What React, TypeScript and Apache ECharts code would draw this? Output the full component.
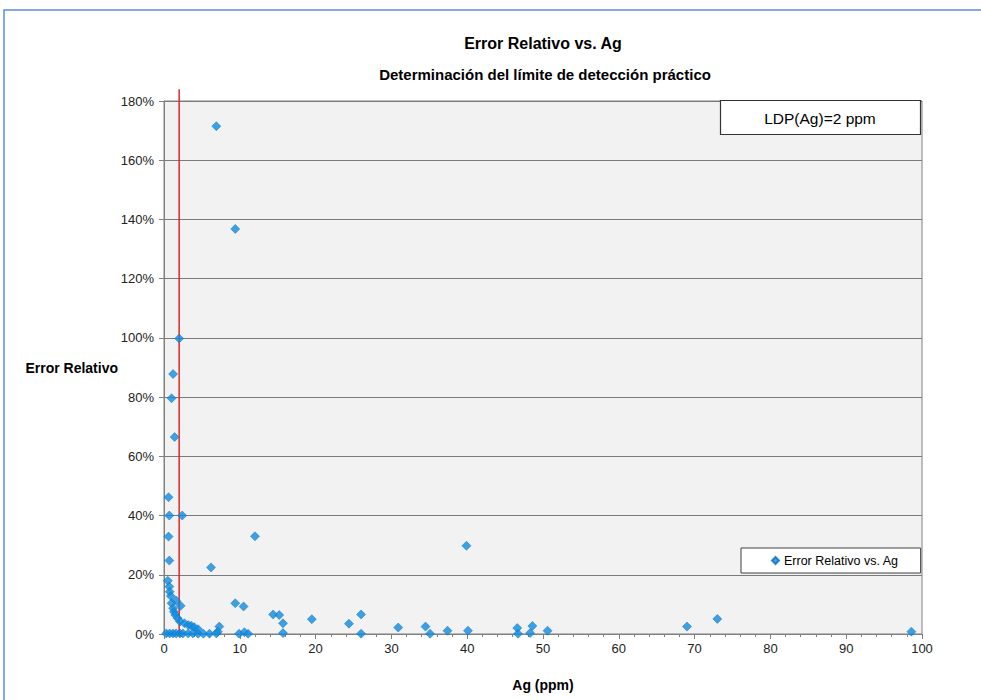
import React, { useEffect, useRef } from "react";
import * as echarts from "echarts";

const TITLE = "Error Relativo vs. Ag";
const SUBTITLE = "Determinación del límite de detección práctico";
const SERIES_NAME = "Error Relativo vs. Ag";
const X_NAME = "Ag (ppm)";
const Y_NAME = "Error Relativo";
const LDP_LABEL = "LDP(Ag)=2 ppm";
const LDP_VALUE = 2;
const LDP_LINE_TOP = 184;

// Ag concentration (ppm)
const agPpm = [
  6.9, 9.4, 2.0, 1.2, 1.0, 1.4, 0.6, 0.7, 2.4, 0.6, 0.7, 6.2, 12.0, 39.9,
  0.5, 0.7, 0.75, 0.9, 1.0, 1.6, 1.2, 1.3, 1.5, 1.8, 2.2, 2.1, 2.7, 3.2, 3.6, 4.0, 4.5, 7.3, 7.1,
  0.3, 0.75, 1.2, 1.6, 2.1, 2.5, 3.2, 3.8, 4.5, 5.2, 6.0, 6.9,
  9.4, 10.5, 9.9, 10.6, 11.1,
  14.4, 15.2, 15.7, 15.7, 19.5, 24.4, 26.0, 26.0, 30.9, 34.5, 35.1, 37.4, 40.1,
  46.6, 46.7, 48.3, 48.6, 50.6, 69.0, 73.0, 98.6,
];
// Relative error (%)
const relErrorPct = [
  171.5, 136.8, 99.8, 87.8, 79.6, 66.5, 46.2, 40.0, 40.0, 32.9, 24.8, 22.5, 33.0, 29.8,
  18.0, 16.0, 14.3, 12.8, 10.4, 11.3, 8.7, 7.5, 6.4, 5.3, 9.5, 4.2, 3.6, 3.0, 2.8, 2.3, 1.6, 2.5, 0.8,
  0.2, 0.2, 0.2, 0.2, 0.2, 0.2, 0.2, 0.2, 0.1, 0.1, 0.1, 0.2,
  10.4, 9.3, 0.1, 0.6, 0.1,
  6.6, 6.4, 3.6, 0.3, 5.0, 3.5, 6.6, 0.1, 2.2, 2.5, 0.1, 1.1, 1.1,
  2.0, 0.1, 0.3, 2.7, 1.1, 2.5, 5.1, 0.8,
];

const FONT = "Liberation Sans, Arial, sans-serif";

export default function App() {
  const ref = useRef<HTMLDivElement>(null);

  useEffect(() => {
    document.body.style.margin = "0";
    if (!ref.current) return;
    const chart = echarts.init(ref.current, null, { renderer: "svg" });
    const points = agPpm.map((x, i) => [x, relErrorPct[i]]);
    chart.setOption({
      animation: false,
      backgroundColor: "#ffffff",
      textStyle: { fontFamily: FONT },
      grid: {
        left: 164,
        right: 59,
        top: 101,
        bottom: 66,
        show: true,
        backgroundColor: "#f2f2f2",
        borderColor: "#808080",
        borderWidth: 1,
      },
      legend: {
        data: [SERIES_NAME],
        left: 741,
        top: 548,
        padding: [6, 22, 6, 30],
        backgroundColor: "#ffffff",
        borderColor: "#404040",
        borderWidth: 1,
        borderRadius: 0,
        itemWidth: 7,
        itemHeight: 7,
        itemGap: 5,
        icon: "diamond",
        textStyle: { fontFamily: FONT, fontSize: 12.5, color: "#000" },
      },
      xAxis: {
        type: "value",
        min: 0,
        max: 100,
        interval: 10,
        name: X_NAME,
        nameLocation: "middle",
        nameGap: 44,
        nameMoveOverlap: false,
        nameTextStyle: { fontFamily: FONT, fontSize: 14, fontWeight: "bold", color: "#000" },
        axisLine: { onZero: false, lineStyle: { color: "#808080", width: 1 } },
        axisTick: { show: true, inside: false, length: 5, lineStyle: { color: "#808080" } },
        minorTick: { show: true, splitNumber: 5, length: 3, lineStyle: { color: "#808080" } },
        splitLine: { show: false },
        axisLabel: { fontFamily: FONT, fontSize: 13, color: "#222", margin: 8 },
      },
      yAxis: {
        type: "value",
        min: 0,
        max: 180,
        interval: 20,
        name: Y_NAME,
        nameLocation: "middle",
        nameRotate: 0,
        nameGap: 46,
        nameMoveOverlap: false,
        nameTextStyle: { fontFamily: FONT, fontSize: 14, fontWeight: "bold", color: "#000" },
        axisLine: { show: true, lineStyle: { color: "#808080", width: 1 } },
        axisTick: { show: true, inside: false, length: 5, lineStyle: { color: "#808080" } },
        splitLine: { show: true, lineStyle: { color: "#7a7a7a", width: 1 } },
        axisLabel: { fontFamily: FONT, fontSize: 13, color: "#222", margin: 10, formatter: "{value}%" },
      },
      graphic: [
        {
          type: "rect",
          shape: { x: 4, y: 10, width: 990, height: 720 },
          style: { fill: "none", stroke: "#5b8fd6", lineWidth: 1.5 },
          silent: true,
        },
        {
          type: "text",
          x: 543,
          y: 43,
          style: {
            text: TITLE,
            fontFamily: FONT,
            fontSize: 16,
            fontWeight: "bold",
            fill: "#000",
            align: "center",
            verticalAlign: "middle",
          },
        },
        {
          type: "text",
          x: 545,
          y: 74,
          style: {
            text: SUBTITLE,
            fontFamily: FONT,
            fontSize: 15,
            fontWeight: "bold",
            fill: "#000",
            align: "center",
            verticalAlign: "middle",
          },
        },
        {
          type: "rect",
          z: 10,
          shape: { x: 720.5, y: 100.5, width: 200, height: 34 },
          style: { fill: "#ffffff", stroke: "#333", lineWidth: 1.2 },
        },
        {
          type: "text",
          z: 11,
          x: 820,
          y: 118,
          style: {
            text: LDP_LABEL,
            fontFamily: FONT,
            fontSize: 15.5,
            fill: "#000",
            align: "center",
            verticalAlign: "middle",
          },
        },
      ],
      series: [
        {
          name: SERIES_NAME,
          type: "scatter",
          symbol: "diamond",
          symbolSize: 9,
          data: points,
          itemStyle: { color: "#0e8ce0", borderColor: "#0a6cc0", borderWidth: 0.6 },
          z: 5,
        },
        {
          name: "LDP",
          type: "line",
          data: [
            [LDP_VALUE, 0],
            [LDP_VALUE, LDP_LINE_TOP],
          ],
          clip: false,
          symbol: "none",
          lineStyle: { color: "#e02828", width: 1.5 },
          z: 3,
          silent: true,
        },
      ],
    });
    return () => chart.dispose();
  }, []);

  return <div ref={ref} style={{ width: 981, height: 700, position: "absolute", left: 0, top: 0 }} />;
}
